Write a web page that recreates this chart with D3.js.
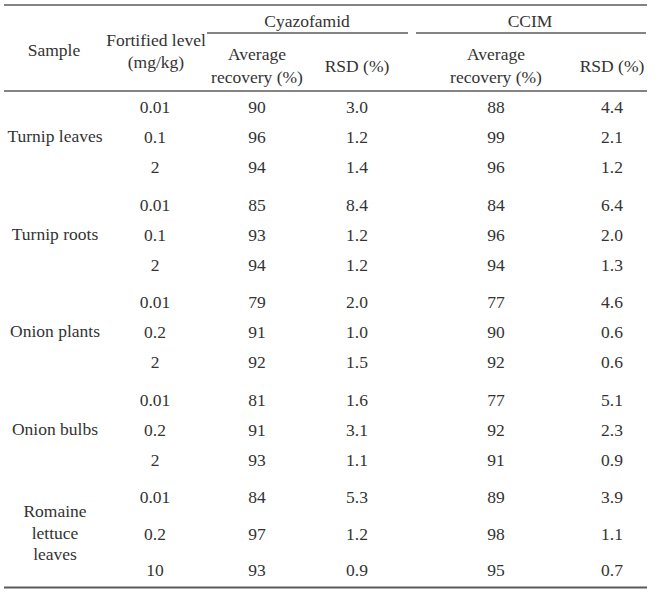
<!DOCTYPE html>
<html>
<head>
<meta charset="utf-8">
<script src="https://cdn.jsdelivr.net/npm/d3@7"></script>
<style>
  html, body { margin: 0; padding: 0; background: #fff; }
  svg { display: block; }
  text { font-family: "Liberation Serif", "Times New Roman", serif; fill: #333; }
</style>
</head>
<body>
<svg id="chart" width="660" height="598"></svg>
<script>
// ---- data ----
const samples = ["Turnip leaves", "Turnip roots", "Onion plants", "Onion bulbs", "Romaine lettuce leaves"];
const sampleLines = [["Turnip leaves"], ["Turnip roots"], ["Onion plants"], ["Onion bulbs"], ["Romaine", "lettuce", "leaves"]];
const levels = [["0.01", "0.1", "2"], ["0.01", "0.1", "2"], ["0.01", "0.2", "2"], ["0.01", "0.2", "2"], ["0.01", "0.2", "10"]];
const cyazRecovery = [[90, 96, 94], [85, 93, 94], [79, 91, 92], [81, 91, 93], [84, 97, 93]];
const cyazRSD = [["3.0", "1.2", "1.4"], ["8.4", "1.2", "1.2"], ["2.0", "1.0", "1.5"], ["1.6", "3.1", "1.1"], ["5.3", "1.2", "0.9"]];
const ccimRecovery = [[88, 99, 96], [84, 96, 94], [77, 90, 92], [77, 92, 91], [89, 98, 95]];
const ccimRSD = [["4.4", "2.1", "1.2"], ["6.4", "2.0", "1.3"], ["4.6", "0.6", "0.6"], ["5.1", "2.3", "0.9"], ["3.9", "1.1", "0.7"]];
const columns = ["sample", "level", "cyazRec", "cyazRSD", "ccimRec", "ccimRSD"];
const groupHeaders = ["Cyazofamid", "CCIM"];

// ---- layout ----
const svg = d3.select("#chart");
const fs = 17.5;
const x = d3.scaleOrdinal().domain(columns).range([55, 155, 257, 357, 496, 612]);

// row slot positions (group rows separated by a gap; 3-line label groups get roomier rows)
const slots = [];
let s = 0;
samples.forEach((g, gi) => {
  const step = sampleLines[gi].length > 2 ? 1.22 : 1;
  const rows = [];
  for (let r = 0; r < 3; r++) { rows.push(s); s += step; }
  slots.push(rows);
  s += 0.25 - (step - 1);
});
const y = d3.scaleLinear().domain([0, 1]).range([107, 137]);

const line = (x1, x2, yy, w) => svg.append("line")
  .attr("x1", x1).attr("x2", x2).attr("y1", yy).attr("y2", yy)
  .attr("stroke", "#5a5a5a").attr("stroke-width", w || 1.4);

// rules
line(4, 647, 5, 1.6);
line(207, 408, 33, 1.4);
line(416, 646, 33, 1.4);
line(4, 647, 91, 1.6);
line(4, 647, 587.5, 1.8);

const txt = (t, xx, yy) => svg.append("text")
  .attr("x", xx).attr("y", yy).attr("dy", "0.35em")
  .attr("text-anchor", "middle").attr("font-size", fs).text(t);

// header
txt(groupHeaders[0], 307, 21);
txt(groupHeaders[1], 530, 21);
txt("Sample", 54, 50);
txt("Fortified level", 156, 39.5);
txt("(mg/kg)", 156, 62);
txt("Average", x("cyazRec"), 54);
txt("recovery (%)", x("cyazRec"), 77);
txt("RSD (%)", x("cyazRSD"), 65.5);
txt("Average", x("ccimRec"), 54);
txt("recovery (%)", x("ccimRec"), 77);
txt("RSD (%)", x("ccimRSD"), 65.5);

// body
samples.forEach((g, gi) => {
  const rows = slots[gi];
  const mid = y(rows[1]);
  const lines = sampleLines[gi];
  const lh = 21.5;
  lines.forEach((l, li) => {
    txt(l, x("sample"), mid - 1 + (li - (lines.length - 1) / 2) * lh);
  });
  rows.forEach((sl, r) => {
    const yy = y(sl);
    txt(levels[gi][r], x("level"), yy);
    txt(cyazRecovery[gi][r], x("cyazRec"), yy);
    txt(cyazRSD[gi][r], x("cyazRSD"), yy);
    txt(ccimRecovery[gi][r], x("ccimRec"), yy);
    txt(ccimRSD[gi][r], x("ccimRSD"), yy);
  });
});
</script>
</body>
</html>
